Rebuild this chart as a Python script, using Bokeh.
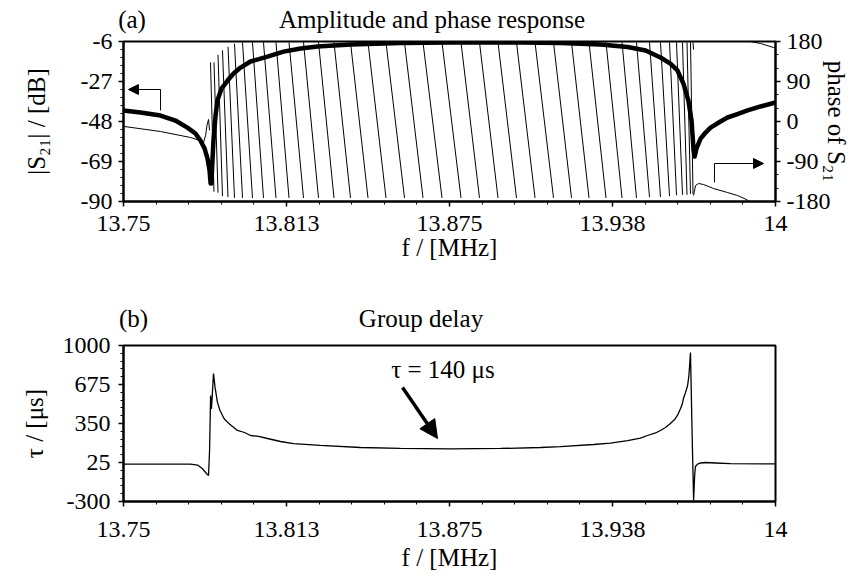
import numpy as np
from bokeh.plotting import figure
from bokeh.layouts import column
from bokeh.models import Range1d, LinearAxis, FixedTicker, Arrow, NormalHead, Label
from bokeh.embed import file_html
from bokeh.resources import INLINE

FONT = "Liberation Serif"

# ---------------- axis ticks ----------------
x_ticks = [13.75, 13.8125, 13.875, 13.9375, 14.0]
x_tick_labels = ["13.75", "13.813", "13.875", "13.938", "14"]
amp_ticks = [-90, -69, -48, -27, -6]
phase_ticks = [-180, -90, 0, 90, 180]
delay_ticks = [-300, 25, 350, 675, 1000]

# ---------------- (a) amplitude |S21| in dB ----------------
amp_f = [13.75, 13.7565, 13.7642, 13.7699, 13.7745, 13.7776, 13.7795, 13.7811, 13.7822,
         13.7830, 13.7834, 13.7837, 13.7841, 13.7845, 13.7853, 13.7860, 13.7876, 13.7899,
         13.7922, 13.7949, 13.7987, 13.8052, 13.8114, 13.8179, 13.8244, 13.8370, 13.8562,
         13.8754, 13.9022, 13.9176, 13.9329, 13.9433, 13.9502, 13.9559, 13.9597, 13.9624,
         13.9647, 13.9666, 13.9678, 13.9682, 13.9686, 13.9690, 13.9697, 13.9713, 13.9732,
         13.9751, 13.9789, 13.9816, 13.9854, 13.9893, 13.9943, 14.0]
amp_db = [-42.2, -43.3, -44.9, -47.5, -51.2, -54.3, -58.0, -62.2, -67.4,
          -73.7, -80.6, -80.6, -68.5, -58.0, -44.9, -37.0, -30.7, -26.5,
          -22.8, -19.7, -16.5, -13.9, -11.3, -9.7, -8.6, -7.6, -6.8,
          -6.5, -6.5, -6.8, -7.6, -8.9, -10.7, -14.4, -17.6, -21.2,
          -28.1, -37.0, -47.5, -55.4, -63.2, -66.4, -62.2, -56.9, -53.8,
          -51.2, -48.0, -45.9, -44.1, -42.2, -40.1, -38.0]

# ---------------- (a) phase of S21 in degrees ----------------
pre_phase_f = [13.75, 13.7642, 13.7757, 13.7795, 13.7807, 13.7815, 13.7820, 13.7826, 13.7830]
pre_phase_deg = [-11, -22.5, -36, -43, -47, -31, -9, 4.5, -20]

# wrapped phase inside the pass band: one segment per turn (+180 -> -180)
seg_f0 = [13.78336, 13.78470, 13.78624, 13.78796, 13.79007, 13.79256, 13.79563, 13.79946,
          13.80368, 13.80847, 13.81346, 13.81902, 13.82477, 13.83071, 13.83704, 13.84375,
          13.85065, 13.85775, 13.86484, 13.87213, 13.87941, 13.88650, 13.89360, 13.90069,
          13.90779, 13.91488, 13.92178, 13.92849, 13.93501, 13.94115, 13.94670, 13.95169,
          13.95591, 13.95936, 13.96204, 13.96434, 13.96607, 13.96741, 13.96837]
seg_f1 = [13.78470, 13.78624, 13.78796, 13.79007, 13.79256, 13.79563, 13.79946, 13.80368,
          13.80847, 13.81346, 13.81902, 13.82477, 13.83071, 13.83704, 13.84375, 13.85065,
          13.85775, 13.86484, 13.87213, 13.87941, 13.88650, 13.89360, 13.90069, 13.90779,
          13.91488, 13.92178, 13.92849, 13.93501, 13.94115, 13.94670, 13.95169, 13.95591,
          13.95936, 13.96204, 13.96434, 13.96607, 13.96741, 13.96837, 13.96856]
seg_p0 = [133, 133, 150, 160, 168, 175, 178, 178, 178, 178, 178, 178, 178, 178, 178, 178,
          178, 178, 178, 178, 178, 178, 178, 178, 178, 178, 178, 178, 178, 178, 178, 178,
          178, 178, 178, 178, 178, 178, 178]
seg_p1 = [-158, -160, -168, -170, -172, -172, -172, -172, -172, -172, -172, -172, -172, -172,
          -172, -172, -172, -172, -172, -172, -172, -172, -172, -172, -172, -172, -172, -172,
          -172, -172, -170, -170, -168, -166, -165, -165, -163, -163, 162]

post_phase_f = [13.96856, 13.96936, 13.97051, 13.97243, 13.97626, 13.98159, 13.98545, 13.98928, 13.98985]
post_phase_deg = [-166.5, -144, -139.5, -141.8, -150.8, -159.8, -166.5, -176.6, -180]
wrap_phase_f = [13.99042, 13.99426, 13.99924, 14.0]
wrap_phase_deg = [180, 175.5, 166.5, 166]

# ---------------- (b) group delay in microseconds ----------------
delay_f = [13.75, 13.7757, 13.7784, 13.7803, 13.7818, 13.7826, 13.7830, 13.7834, 13.7837,
           13.7840, 13.7845, 13.7851, 13.7860, 13.7870, 13.7886, 13.7905, 13.7918, 13.7937,
           13.7964, 13.7987, 13.8018, 13.8052, 13.8102, 13.8152, 13.8255, 13.8409, 13.8562,
           13.8754, 13.8946, 13.9099, 13.9176, 13.9302, 13.9367, 13.9433, 13.9482, 13.9509,
           13.9540, 13.9559, 13.9578, 13.9597, 13.9613, 13.9624, 13.9636, 13.9643, 13.9647,
           13.9655, 13.9663, 13.9668, 13.9672, 13.9674, 13.9680, 13.9686, 13.9690, 13.9693,
           13.9701, 13.9713, 13.9732, 13.9770, 13.9827, 14.0]
delay_us = [12, 12, 4, -28, -67, -83, 125, 583, 472,
            567, 767, 653, 528, 458, 389, 347, 325, 292,
            275, 250, 242, 225, 200, 183, 167, 150, 142,
            138, 142, 150, 158, 175, 187, 208, 229, 250,
            271, 292, 317, 350, 383, 417, 475, 517, 558,
            608, 667, 750, 875, 942, 292, -292, -83, -8,
            12, 21, 25, 21, 15, 14]

# ---------------- annotations (data coordinates) ----------------
amp_arrow_f = [13.7642, 13.7642, 13.7519]
amp_arrow_db = [-42.2, -31.2, -31.2]
phase_arrow_f = [13.9766, 13.9766, 13.9954]
phase_arrow_deg = [-137, -94.5, -94.5]
delay_arrow_f = [13.8570, 13.8704]
delay_arrow_us = [650, 225]
delay_note = "τ = 140 μs"

# panel headings (text and the frequency they are centred over)
head_a = ["(a)", "Amplitude and phase response"]
head_a_f = [13.75326, 13.86829]
head_b = ["(b)", "Group delay"]
head_b_f = [13.75383, 13.86407]


def style_axis(ax, label_standoff_major=6, label_standoff=0):
    ax.axis_line_width = 2
    ax.axis_line_color = "black"
    ax.major_tick_out = 5
    ax.major_tick_in = 0
    ax.minor_tick_out = 3
    ax.minor_tick_in = 0
    ax.major_tick_line_width = 1.5
    ax.minor_tick_line_width = 1
    ax.major_tick_line_color = "black"
    ax.minor_tick_line_color = "black"
    ax.major_label_text_font = FONT
    ax.major_label_text_font_size = "24px"
    ax.major_label_text_color = "black"
    ax.axis_label_text_font = FONT
    ax.axis_label_text_font_size = "25px"
    ax.axis_label_text_font_style = "normal"
    ax.axis_label_text_color = "black"
    ax.major_label_standoff = label_standoff_major
    ax.axis_label_standoff = label_standoff


def heading_axis(fig, texts, freqs, standoff):
    ax = LinearAxis(ticker=FixedTicker(ticks=freqs, minor_ticks=[]),
                    major_label_overrides={f: t for f, t in zip(freqs, texts)})
    ax.axis_line_color = None
    ax.major_tick_line_color = None
    ax.minor_tick_line_color = None
    ax.major_tick_out = 0
    ax.major_tick_in = 0
    ax.minor_tick_out = 0
    ax.minor_tick_in = 0
    ax.major_label_text_font = FONT
    ax.major_label_text_font_size = "25px"
    ax.major_label_text_color = "black"
    ax.major_label_standoff = standoff
    fig.add_layout(ax, "above")


def plain(ticks):
    return {t: str(t) for t in ticks}


x_minor = list(np.arange(13.75, 14.0001, 0.0125))
amp_minor = list(np.arange(-90, -5.9, 4.2))
phase_minor = list(np.arange(-180, 180.1, 30))
delay_minor = list(np.arange(-300, 1000.1, 65))
x_overrides = {t: s for t, s in zip(x_ticks, x_tick_labels)}

# =============== top figure ===============
p1 = figure(width=857, height=290, x_range=Range1d(13.75, 14.0), y_range=Range1d(-90, -6),
            output_backend="svg", toolbar_location=None,
            min_border_left=123, min_border_right=82, min_border_top=41, min_border_bottom=89)
p1.extra_y_ranges = {"phase": Range1d(-180, 180)}
p1.xgrid.visible = False
p1.ygrid.visible = False
p1.outline_line_color = "black"
p1.outline_line_width = 2
p1.background_fill_color = "white"
p1.border_fill_color = "white"

p1.xaxis.ticker = FixedTicker(ticks=x_ticks, minor_ticks=x_minor)
p1.xaxis.major_label_overrides = x_overrides
p1.xaxis.axis_label = "f / [MHz]"
style_axis(p1.xaxis[0], 9, 0)

p1.yaxis.ticker = FixedTicker(ticks=amp_ticks, minor_ticks=amp_minor)
p1.yaxis.major_label_overrides = plain(amp_ticks)
p1.yaxis.axis_label = "|S₂₁| / [dB]"
style_axis(p1.yaxis[0], 6, 28)

rax = LinearAxis(y_range_name="phase", axis_label="phase of S₂₁",
                 ticker=FixedTicker(ticks=phase_ticks, minor_ticks=phase_minor),
                 major_label_overrides=plain(phase_ticks))
style_axis(rax, 6, -10)
p1.add_layout(rax, "right")

heading_axis(p1, head_a, head_a_f, 9)

# phase traces (thin)
p1.line(pre_phase_f, pre_phase_deg, y_range_name="phase", line_color="black", line_width=1)
seg_xs = [[a, b] for a, b in zip(seg_f0, seg_f1)]
seg_ys = [[a, b] for a, b in zip(seg_p0, seg_p1)]
p1.multi_line(seg_xs, seg_ys, y_range_name="phase", line_color="black", line_width=1)
p1.line(post_phase_f, post_phase_deg, y_range_name="phase", line_color="black", line_width=1)
p1.line(wrap_phase_f, wrap_phase_deg, y_range_name="phase", line_color="black", line_width=1)

# amplitude (thick)
p1.line(amp_f, amp_db, line_color="black", line_width=4.5, line_join="round")

# pointer arrows
p1.line(amp_arrow_f[:2], amp_arrow_db[:2], line_color="black", line_width=1)
p1.add_layout(Arrow(end=NormalHead(size=10, fill_color="black", line_color="black"),
                    x_start=amp_arrow_f[1], y_start=amp_arrow_db[1],
                    x_end=amp_arrow_f[2], y_end=amp_arrow_db[2],
                    line_color="black", line_width=1))
p1.line(phase_arrow_f[:2], phase_arrow_deg[:2], y_range_name="phase", line_color="black", line_width=1)
p1.add_layout(Arrow(end=NormalHead(size=10, fill_color="black", line_color="black"),
                    x_start=phase_arrow_f[1], y_start=phase_arrow_deg[1],
                    x_end=phase_arrow_f[2], y_end=phase_arrow_deg[2],
                    y_range_name="phase", line_color="black", line_width=1))

# =============== bottom figure ===============
p2 = figure(width=857, height=291, x_range=Range1d(13.75, 14.0), y_range=Range1d(-300, 1000),
            output_backend="svg", toolbar_location=None,
            min_border_left=123, min_border_right=82, min_border_top=55, min_border_bottom=80)
p2.xgrid.visible = False
p2.ygrid.visible = False
p2.outline_line_color = "black"
p2.outline_line_width = 2
p2.background_fill_color = "white"
p2.border_fill_color = "white"

p2.xaxis.ticker = FixedTicker(ticks=x_ticks, minor_ticks=x_minor)
p2.xaxis.major_label_overrides = x_overrides
p2.xaxis.axis_label = "f / [MHz]"
style_axis(p2.xaxis[0], 15, 4)

p2.yaxis.ticker = FixedTicker(ticks=delay_ticks, minor_ticks=delay_minor)
p2.yaxis.major_label_overrides = plain(delay_ticks)
p2.yaxis.axis_label = "τ / [μs]"
style_axis(p2.yaxis[0], 8, 12)

heading_axis(p2, head_b, head_b_f, 14)

p2.line(delay_f, delay_us, line_color="black", line_width=1.3)

p2.add_layout(Arrow(end=NormalHead(size=18, fill_color="black", line_color="black"),
                    x_start=delay_arrow_f[0], y_start=delay_arrow_us[0],
                    x_end=delay_arrow_f[1], y_end=delay_arrow_us[1],
                    line_color="black", line_width=3.5))
p2.add_layout(Label(x=13.8725, y=800, text=delay_note, text_font=FONT, text_font_size="25px",
                    text_align="center", text_baseline="middle", text_color="black"))

layout = column(p1, p2, spacing=0)
open("out.html", "w").write(file_html(layout, INLINE))
